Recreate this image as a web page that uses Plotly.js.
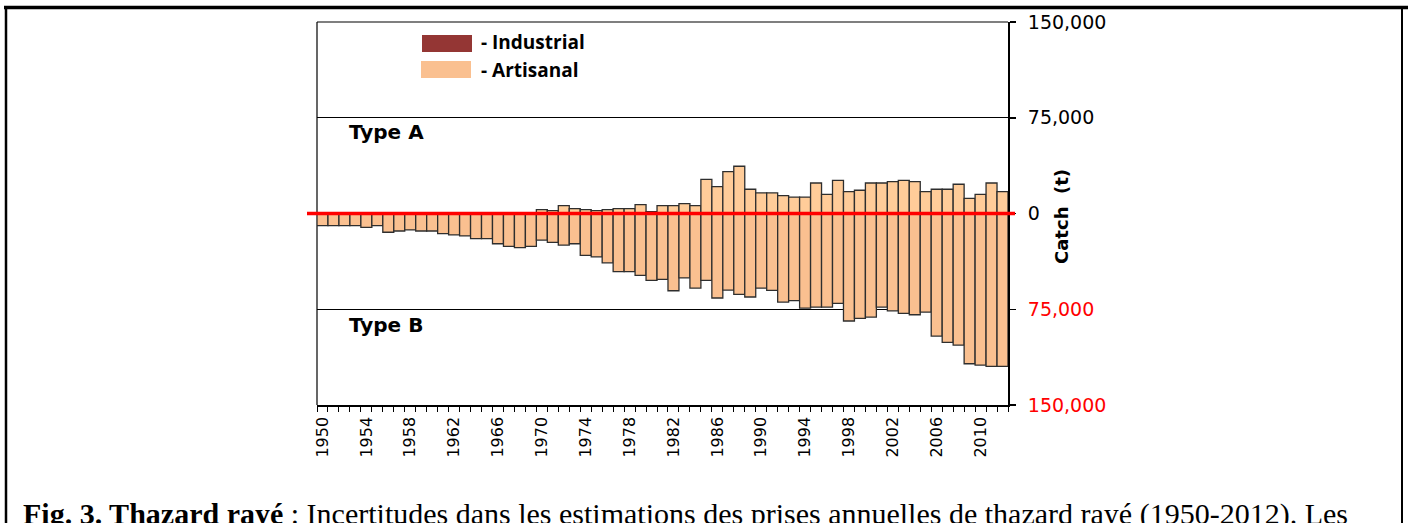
<!DOCTYPE html>
<html>
<head>
<meta charset="utf-8">
<script src="https://cdn.plot.ly/plotly-3.0.1.min.js"></script>
<style>html,body{margin:0;padding:0;background:#fff;}#chart{width:1408px;height:523px;}</style>
</head>
<body>
<div id="chart"></div>
<script>
// ---- data (tonnes) ----
const years = [1950,1951,1952,1953,1954,1955,1956,1957,1958,1959,
  1960,1961,1962,1963,1964,1965,1966,1967,1968,1969,
  1970,1971,1972,1973,1974,1975,1976,1977,1978,1979,
  1980,1981,1982,1983,1984,1985,1986,1987,1988,1989,
  1990,1991,1992,1993,1994,1995,1996,1997,1998,1999,
  2000,2001,2002,2003,2004,2005,2006,2007,2008,2009,
  2010,2011,2012];

// Type A (over-estimate, drawn above zero)
const typeA_artisanal = [0,0,0,0,0,0,0,0,0,0,
  0,0,0,0,0,0,0,0,0,0,
  3000,2200,6100,3800,3000,2200,3000,3800,3800,6900,
  1400,6100,6100,7700,6100,26800,21000,32800,37000,19000,
  16100,16100,14000,12900,12900,23900,15000,26000,17100,18200,
  23900,23900,24900,26000,24900,17100,19000,19000,22900,11900,
  15000,23900,17100];

// Type B (under-estimate, drawn below zero)
const typeB_artisanal = [9500,9500,9500,9500,10800,9500,14700,13700,12900,13700,
  13700,15800,16800,17600,19700,19700,23700,25700,26800,25700,
  20800,22600,24700,23700,32800,33900,38600,45600,45600,48400,
  52400,51600,60500,50500,58400,52400,66200,60000,63300,65400,
  58400,60200,69400,68300,74100,73300,73300,70400,84200,82200,
  81100,73300,76200,78200,79300,77200,96000,100900,103100,117700,
  118700,119700,119700];

const xTickYears = [1950,1954,1958,1962,1966,1970,1974,1978,1982,1986,1990,1994,1998,2002,2006,2010];
const yTickVals = [-150000,-75000,0,75000,150000];
const yTickText = ['<span style="color:#ff0000">150,000</span>','<span style="color:#ff0000">75,000</span>','0','75,000','150,000'];
const seriesNames = ['- Industrial','- Artisanal'];
const seriesColors = ['#943634','#FAC090'];

// ---- layout geometry ----
const L=317, R=1008, T=22, B=405;
const px = v => (v-L)/(R-L);
const py = v => (B-v)/(B-T);

const lineCol = '#2e2e2e';
const traces = [
  {type:'bar', x:years, y:typeA_artisanal, width:1, name:'Type A',
   marker:{color:'#FFCC99', line:{color:lineCol, width:1.3}}, showlegend:false, hoverinfo:'x+y'},
  {type:'bar', x:years, y:typeB_artisanal.map(v=>-v), width:1, name:'Type B',
   marker:{color:'#FAC090', line:{color:lineCol, width:1.3}}, showlegend:false, hoverinfo:'x+y'}
];

const shapes = [
  // plot frame: top & left
  {type:'line', xref:'paper', yref:'paper', x0:0, x1:1, y0:1, y1:1, line:{color:'#000', width:1.2}, layer:'below'},
  {type:'line', xref:'paper', yref:'paper', x0:0, x1:0, y0:0, y1:1, line:{color:'#000', width:1.2}, layer:'below'},
  // zero line (red)
  {type:'line', xref:'paper', yref:'y', x0:px(307), x1:px(1015), y0:0, y1:0, line:{color:'#ff0000', width:3.5}, layer:'above'},
  // legend swatches
  {type:'rect', xref:'paper', yref:'paper', x0:px(422), x1:px(472), y0:py(52), y1:py(35), fillcolor:seriesColors[0], line:{width:0}},
  {type:'rect', xref:'paper', yref:'paper', x0:px(421), x1:px(471), y0:py(78), y1:py(61), fillcolor:seriesColors[1], line:{width:0}},
  // page frame
  {type:'line', xref:'paper', yref:'paper', x0:px(4), x1:px(1410), y0:py(7.5), y1:py(7.5), line:{color:'#000', width:3.5}},
  {type:'line', xref:'paper', yref:'paper', x0:px(6), x1:px(6), y0:py(6), y1:py(530), line:{color:'#000', width:2.5}},
  {type:'line', xref:'paper', yref:'paper', x0:px(1402), x1:px(1402), y0:py(6), y1:py(530), line:{color:'#000', width:2}}
];

const boldSans = 'DejaVu Sans, Verdana, sans-serif';
const annotations = [
  {xref:'paper', yref:'paper', x:px(479), y:py(42), xanchor:'left', yanchor:'middle', showarrow:false,
   text:'<b>'+seriesNames[0]+'</b>', font:{family:'Open Sans, sans-serif', size:19, color:'#000'}},
  {xref:'paper', yref:'paper', x:px(479), y:py(70), xanchor:'left', yanchor:'middle', showarrow:false,
   text:'<b>'+seriesNames[1]+'</b>', font:{family:'Open Sans, sans-serif', size:19, color:'#000'}},
  {xref:'paper', yref:'paper', x:px(347), y:py(132), xanchor:'left', yanchor:'middle', showarrow:false,
   text:'<b>Type A</b>', font:{family:boldSans, size:20, color:'#000'}},
  {xref:'paper', yref:'paper', x:px(347), y:py(325), xanchor:'left', yanchor:'middle', showarrow:false,
   text:'<b>Type B</b>', font:{family:boldSans, size:20, color:'#000'}},
  {xref:'paper', yref:'paper', x:px(1061), y:py(217), xanchor:'center', yanchor:'middle', showarrow:false, textangle:-90,
   text:'<b>Catch  (t)</b>', font:{family:boldSans, size:18, color:'#000'}},
  {xref:'paper', yref:'paper', x:px(21), y:py(514), xanchor:'left', yanchor:'middle', showarrow:false,
   text:'<b>Fig. 3. Thazard rayé</b> : Incertitudes dans les estimations des prises annuelles de thazard rayé (1950-2012). Les',
   font:{family:'Liberation Serif, Times New Roman, serif', size:30, color:'#000'}}
];

const layout = {
  width:1408, height:523,
  margin:{l:L, r:1408-R, t:T, b:523-B, pad:0},
  paper_bgcolor:'#fff', plot_bgcolor:'#fff',
  barmode:'relative', bargap:0,
  showlegend:false,
  xaxis:{
    range:[1949.5, 2012.5], tickmode:'array', tickvals:xTickYears, ticktext:xTickYears.map(String),
    tickangle:-90, ticks:'', showgrid:false, zeroline:false,
    showline:true, linecolor:'#000', linewidth:1.5,
    tickfont:{family:'DejaVu Sans, Verdana, sans-serif', size:16, color:'#000'},
    ticklabelstandoff:4,
    minor:{tickmode:'linear', tick0:1949.5, dtick:1, ticks:'outside', ticklen:5, tickwidth:1, tickcolor:'#000', showgrid:false}
  },
  yaxis:{
    range:[-150000,150000], side:'right', tickmode:'array', tickvals:yTickVals, ticktext:yTickText,
    ticks:'outside', ticklen:6, tickwidth:1.5, tickcolor:'#000',
    showline:true, linecolor:'#000', linewidth:2,
    showgrid:true, gridcolor:'#000', gridwidth:1, zeroline:false,
    tickfont:{family:'DejaVu Sans, Verdana, sans-serif', size:19, color:'#000'},
    ticklabelstandoff:8
  },
  shapes:shapes, annotations:annotations
};

Plotly.newPlot('chart', traces, layout, {displayModeBar:false, staticPlot:true});
</script>
</body>
</html>
